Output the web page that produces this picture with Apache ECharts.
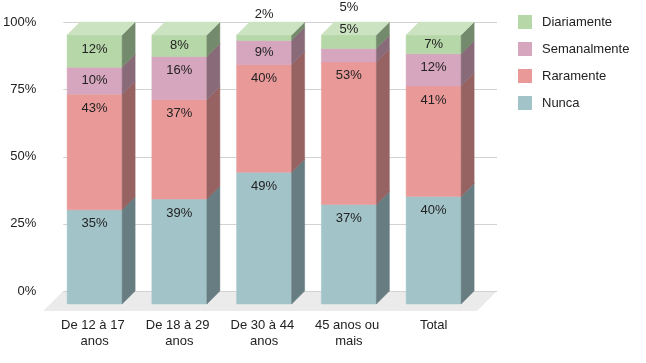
<!DOCTYPE html>
<html><head><meta charset="utf-8">
<script src="https://cdn.jsdelivr.net/npm/echarts@6/dist/echarts.min.js"></script>
<style>html,body{margin:0;padding:0;background:#fff}#c{width:646px;height:363px}</style>
</head><body><div id="c"></div>
<script>
// ---- data ----
const categories = ['De 12 à 17 anos', 'De 18 à 29 anos', 'De 30 à 44 anos', '45 anos ou mais', 'Total'];
const nunca        = [35, 39, 49, 37, 40];
const raramente    = [43, 37, 40, 53, 41];
const semanalmente = [10, 16, 9, 5, 12];
const diariamente  = [12, 8, 2, 5, 7];
const yTicks = [0, 25, 50, 75, 100];
const seriesNames  = ['Nunca', 'Raramente', 'Semanalmente', 'Diariamente'];
const seriesValues = [nunca, raramente, semanalmente, diariamente];

// ---- style ----
const FONT = '"Liberation Sans", Arial, sans-serif';
const frontColors = ['#a2c4c9', '#ea9999', '#d5a6bd', '#b6d7a8'];
const DEPTH = 13;
function hexToRgb(h){ h = h.replace('#',''); return [0,2,4].map(i => parseInt(h.substr(i,2),16)); }
function rgbStr(a){ return 'rgb(' + a.map(v => Math.round(Math.max(0, Math.min(255, v)))).join(',') + ')'; }
function darker(h, f){ return rgbStr(hexToRgb(h).map(v => v * f)); }
function lighter(h, f){ return rgbStr(hexToRgb(h).map(v => v + (255 - v) * f)); }

const chart = echarts.init(document.getElementById('c'), null, {renderer: 'canvas'});

function makeRender(s){
  const front = frontColors[s], side = darker(front, 0.64), top = lighter(front, 0.3);
  const last = seriesValues.length - 1;
  return function(params, api){
    const i = api.value(0), base = api.value(1), v = api.value(2);
    const bw = api.size([1, 0])[0] * 0.649;
    const cx = api.coord([i, 0])[0];
    const yBot = api.coord([i, base])[1];
    const yTop = api.coord([i, base + v])[1];
    const x1 = cx - bw / 2, x2 = cx + bw / 2, d = DEPTH;
    const children = [
      {type: 'rect', shape: {x: x1, y: yTop, width: bw, height: yBot - yTop},
       style: {fill: front, stroke: front, lineWidth: 0.5}},
      {type: 'polygon', shape: {points: [[x2, yTop], [x2 + d, yTop - d], [x2 + d, yBot - d], [x2, yBot]]},
       style: {fill: side, stroke: side, lineWidth: 0.5}}
    ];
    if (s === last) {
      children.push({type: 'polygon', shape: {points: [[x1, yTop], [x1 + d, yTop - d], [x2 + d, yTop - d], [x2, yTop]]},
        style: {fill: top, stroke: top, lineWidth: 0.5}});
    }
    // label layout
    const ppu = (api.coord([i, 0])[1] - api.coord([i, 100])[1]) / 100;
    const h = v * ppu;
    let ly;
    if (h >= 16) {
      ly = yTop + Math.min(h / 2, 14);
    } else {
      const over = [];
      let total = 0;
      seriesValues.forEach((arr, k) => { total += arr[i]; if (arr[i] * ppu < 16) over.push(k); });
      const n = over.length, idx = over.indexOf(s);
      const barTop = api.coord([i, total])[1];
      ly = barTop - 21 + (n - 1) * 15 - idx * 22;
    }
    children.push({type: 'text', z2: 100, style: {text: v + '%', x: cx, y: ly, align: 'center', verticalAlign: 'middle',
      fill: '#222', fontSize: 13, fontFamily: FONT}});
    return {type: 'group', children};
  };
}

const series = [];
series.push({
  type: 'custom', name: '_bg', silent: true, z: 1, data: [[0, 0]],
  renderItem: function(params, api){
    const cs = params.coordSys;
    const y0 = api.coord([0, 0])[1];
    const bx1 = cs.x + 11, bx2 = cs.x + cs.width + 21;
    const children = [{type: 'polygon', shape: {points: [[bx1, y0 - 13], [bx2, y0 - 13], [bx2 - 20, y0 + 7], [bx1 - 20, y0 + 7]]},
      style: {fill: '#ebebeb'}}];
    yTicks.forEach(t => {
      const y = Math.round(api.coord([0, t])[1] - 13) + 0.5;
      children.push({type: 'line', shape: {x1: bx1, y1: y, x2: bx2, y2: y}, style: {stroke: '#d2d2d2', lineWidth: 1}});
    });
    return {type: 'group', children};
  }
});
seriesValues.forEach((arr, s) => {
  const data = arr.map((v, i) => {
    let base = 0;
    for (let k = 0; k < s; k++) base += seriesValues[k][i];
    return [i, base, v];
  });
  series.push({type: 'custom', name: seriesNames[s], z: 2, data, renderItem: makeRender(s),
    itemStyle: {color: frontColors[s]}, encode: {x: 0, y: [1, 2]}});
});

chart.setOption({
  animation: false,
  backgroundColor: '#fff',
  grid: {left: 52, right: 170, top: 35, bottom: 59, containLabel: false},
  legend: {orient: 'vertical', left: 513, top: 10, itemWidth: 14, itemHeight: 14, itemGap: 13, icon: 'rect',
    data: ['Diariamente', 'Semanalmente', 'Raramente', 'Nunca'],
    textStyle: {fontSize: 13, color: '#222', fontFamily: FONT, padding: [0, 0, 0, 5]}},
  xAxis: {type: 'category', data: categories, axisLine: {show: false}, axisTick: {show: false}, splitLine: {show: false},
    axisLabel: {interval: 0, color: '#222', fontSize: 13, fontFamily: FONT, lineHeight: 16, margin: 13, width: 80, overflow: 'break'}},
  yAxis: {type: 'value', min: 0, max: 100, interval: 25, splitLine: {show: false}, axisLine: {show: false}, axisTick: {show: false},
    axisLabel: {formatter: '{value}%', margin: 16, verticalAlign: 'bottom', lineHeight: 26, color: '#222', fontSize: 13, fontFamily: FONT}},
  series
});
</script></body></html>
